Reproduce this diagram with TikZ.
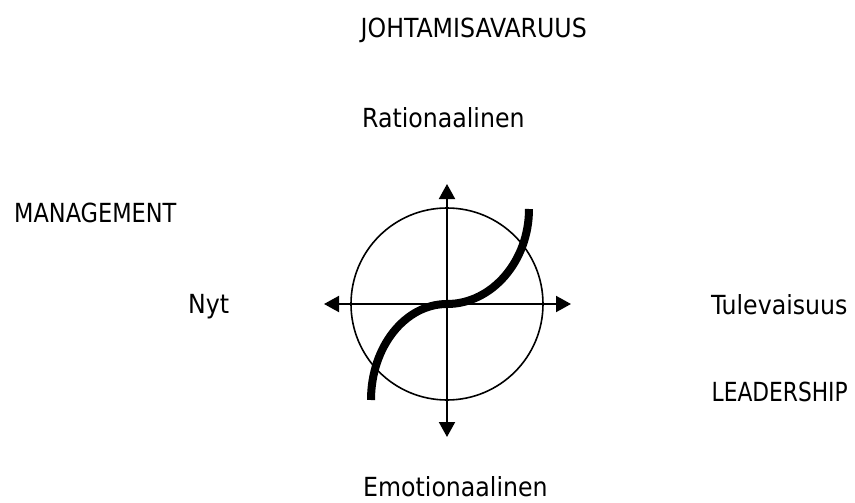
\documentclass[tikz,border=0pt]{standalone}
\usepackage{fontspec}
\setmainfont{DejaVu Sans Condensed}
\usetikzlibrary{arrows.meta}
\begin{document}
\begin{tikzpicture}[x=1pt,y=-1pt,
  lbl/.style={anchor=base west,inner sep=0pt,font=\fontsize{26.3}{30}\selectfont},
  axis/.style={line width=2pt,{Triangle[length=15pt,width=16pt]}-{Triangle[length=15pt,width=16pt]}},
  ring/.style={line width=1.6pt},
  scurve/.style={line width=8pt,line cap=butt}]
\useasboundingbox (0,0) rectangle (855,503);
\node[lbl] (johta) at (360.5,37.5) {JOHTAMISAVARUUS};
\node[lbl] (rat) at (362,128) {Rationaalinen};
\node[lbl] (man) at (14,222) {\scalebox{0.95}[1]{MANAGEMENT}};
\node[lbl] (nyt) at (188,313.5) {Nyt};
\node[lbl] (tul) at (711,314) {Tulevaisuus};
\node[lbl,anchor=base east] (lead) at (848,401) {\scalebox{0.92}[1]{LEADERSHIP}};
\node[lbl] (emo) at (363,496.5) {Emotionaalinen};
\coordinate (c) at (447,304);
\coordinate (top) at (447,184);
\coordinate (bot) at (447,437);
\coordinate (lft) at (324,304);
\coordinate (rgt) at (571,304);
\coordinate (s) at (371,400);
\coordinate (e) at (529,209);
\draw[ring] (c) circle[radius=96];
\draw[axis] (top) -- (bot);
\draw[axis] (lft) -- (rgt);
\draw[scurve] (s) .. controls (371,347) and (405,304) .. (c)
  .. controls (492,304) and (529,261) .. (e);
\end{tikzpicture}
\end{document}
